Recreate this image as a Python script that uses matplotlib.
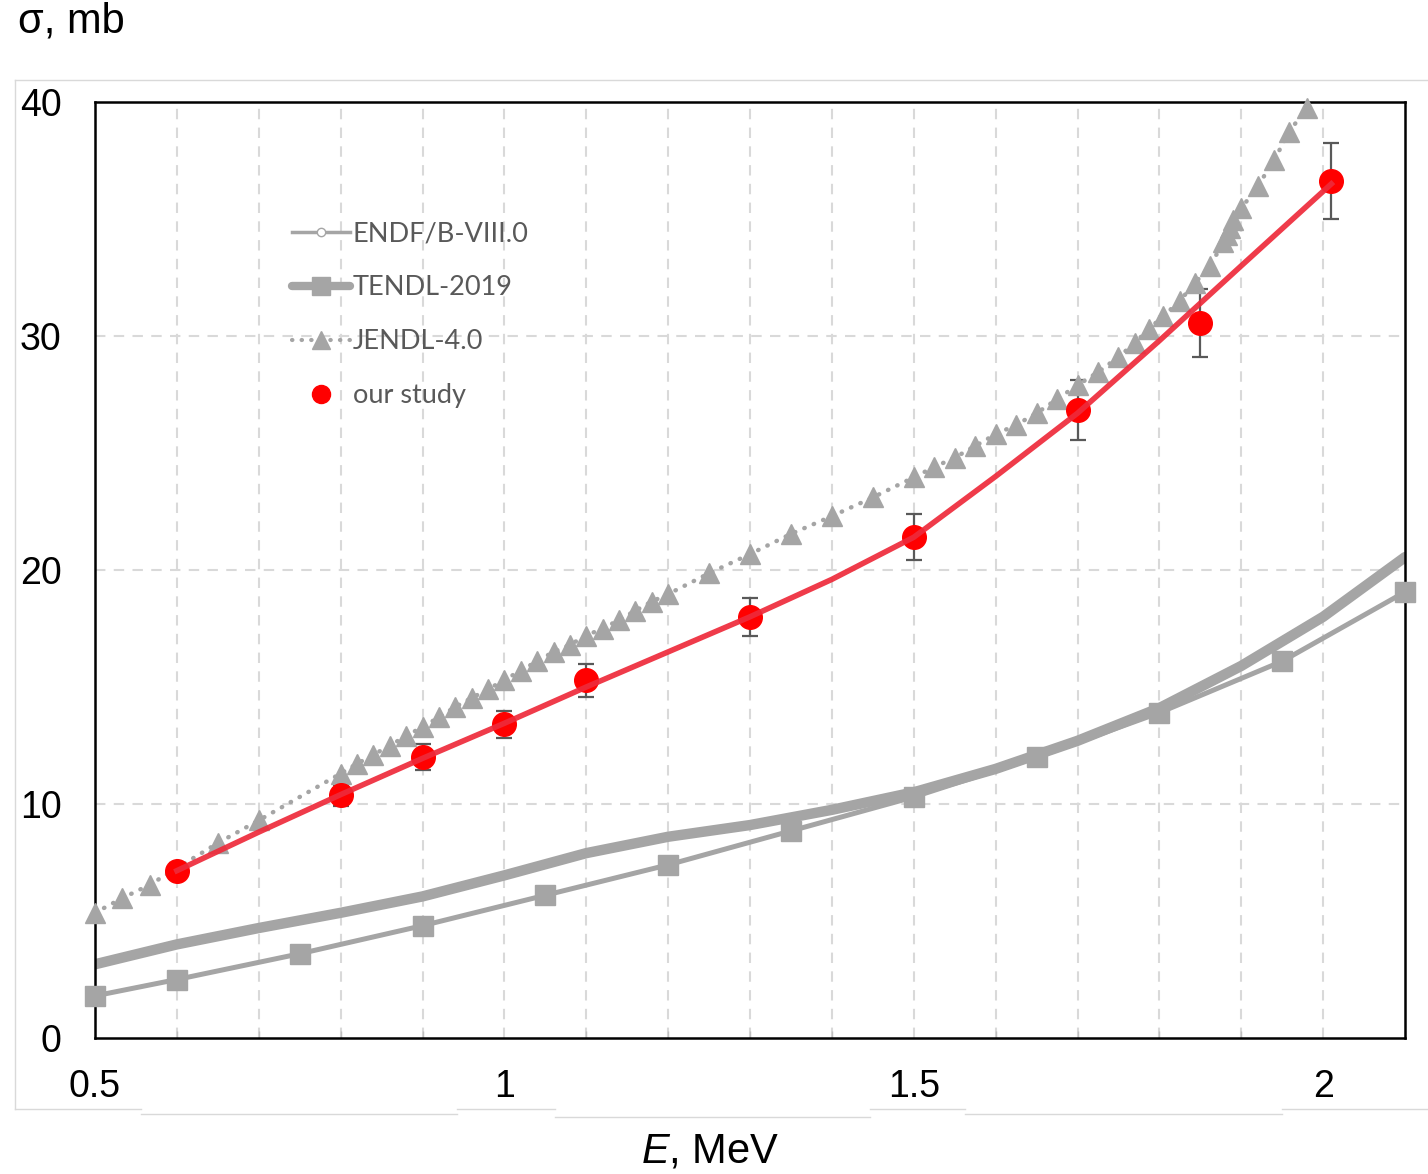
import matplotlib.pyplot as plt
from matplotlib.lines import Line2D

# our study (points with errors) and the fitted curve through them
e_exp = [0.6, 0.8, 0.9, 1.0, 1.1, 1.3, 1.5, 1.7, 1.85, 2.01]
s_exp = [7.15, 10.38, 12.0, 13.4, 15.28, 17.98, 21.4, 26.84, 30.57, 36.62]
err_exp = [0.35, 0.45, 0.55, 0.59, 0.69, 0.81, 0.98, 1.27, 1.45, 1.63]

e_fit = [0.6, 0.7, 0.8, 0.9, 1.0, 1.1, 1.2, 1.3, 1.4, 1.5, 1.6, 1.7, 1.8, 1.9, 2.01]
s_fit = [7.15, 8.8, 10.4, 11.95, 13.45, 15.0, 16.5, 18.0, 19.6, 21.4, 24.0, 26.7, 29.8, 33.0, 36.5]

# thick smooth curve
e_endf = [0.5, 0.6, 0.7, 0.8, 0.9, 1.0, 1.1, 1.2, 1.3, 1.4, 1.5, 1.6, 1.7, 1.8, 1.9, 2.0, 2.1]
s_endf = [3.15, 4.0, 4.7, 5.35, 6.05, 6.95, 7.9, 8.6, 9.1, 9.75, 10.5, 11.5, 12.7, 14.1, 15.9, 18.0, 20.55]

# thin curve with squares
e_tendl = [0.5, 0.6, 0.75, 0.9, 1.05, 1.2, 1.35, 1.5, 1.65, 1.8, 1.95, 2.1]
s_tendl = [1.8, 2.5, 3.6, 4.8, 6.1, 7.4, 8.85, 10.3, 12.0, 13.9, 16.1, 19.06]

# dotted curve with triangles
e_jendl = [0.5, 0.533, 0.567, 0.65, 0.7, 0.8, 0.82, 0.84, 0.86, 0.88, 0.9, 0.92, 0.94,
           0.96, 0.98, 1.0, 1.02, 1.04, 1.06, 1.08, 1.1, 1.12, 1.14, 1.16, 1.18, 1.2,
           1.25, 1.3, 1.35, 1.4, 1.45, 1.5, 1.525, 1.55, 1.575, 1.6, 1.625, 1.65, 1.675,
           1.7, 1.725, 1.75, 1.77, 1.787, 1.805, 1.825, 1.843, 1.862, 1.878, 1.882,
           1.886, 1.89, 1.9, 1.92, 1.94, 1.958, 1.98]
s_jendl = [5.35, 5.97, 6.55, 8.33, 9.3, 11.3, 11.72, 12.1, 12.5, 12.9, 13.3, 13.7, 14.15,
           14.53, 14.9, 15.3, 15.7, 16.1, 16.5, 16.8, 17.2, 17.5, 17.86, 18.26, 18.65, 18.97,
           19.86, 20.68, 21.54, 22.3, 23.1, 23.96, 24.4, 24.8, 25.3, 25.8, 26.2, 26.7, 27.3,
           27.9, 28.45, 29.1, 29.7, 30.3, 30.85, 31.5, 32.25, 33.0, 34.0, 34.3,
           34.6, 34.95, 35.45, 36.4, 37.5, 38.7, 39.75]

labels = ['ENDF/B-VIII.0', 'TENDL-2019', 'JENDL-4.0', 'our study']

plt.rcParams['mathtext.fontset'] = 'custom'
plt.rcParams['mathtext.it'] = 'Liberation Sans:italic'
plt.rcParams['mathtext.rm'] = 'Liberation Sans'

W, H = 1428, 1174
gray = '#A5A5A5'
fig = plt.figure(figsize=(W / 100, H / 100), dpi=100)
ax = fig.add_axes([95 / W, 1 - 1038 / H, 1310 / W, 936 / H])

ax.plot(e_endf, s_endf, color=gray, lw=7.5, solid_capstyle='round', zorder=2)
ax.plot(e_tendl, s_tendl, color=gray, lw=3.6, marker='s', ms=14, zorder=3, clip_on=False)
ax.plot(e_jendl, s_jendl, color=gray, lw=3.2, ls=(0, (0.1, 2.2)), dash_capstyle='round',
        marker='^', ms=14, zorder=4, clip_on=False)
ax.errorbar(e_exp, s_exp, yerr=err_exp, fmt='none', ecolor='#595959', elinewidth=1.6,
            capsize=6, capthick=1.6, zorder=3.5)
ax.plot(e_exp, s_exp, 'o', color='#FF0000', ms=17, zorder=5, clip_on=False)
ax.plot(e_fit, s_fit, color='#EE2A3A', lw=4, alpha=0.92, zorder=6)

ax.set_xlim(0.5, 2.1)
ax.set_ylim(0, 40)
ax.set_xticks([0.5, 1, 1.5, 2])
ax.set_xticklabels(['0.5', '1', '1.5', '2'])
ax.set_xticks([0.5 + 0.1 * i for i in range(17)], minor=True)
ax.set_yticks([0, 10, 20, 30, 40])

for v in [0.6 + 0.1 * i for i in range(15)]:
    ax.axvline(v, color='#D9D9D9', lw=1.5, ls=(0, (5, 4)), zorder=1)
for v in [10, 20, 30]:
    ax.axhline(v, color='#D9D9D9', lw=1.5, ls=(0, (5, 4)), zorder=1)

for sp in ax.spines.values():
    sp.set_linewidth(1.8)
    sp.set_color('black')
ax.tick_params(axis='x', which='major', length=0, pad=22, labelsize=27)
ax.tick_params(axis='x', which='minor', direction='in', length=5, color='#BFBFBF', width=1)
ax.tick_params(axis='y', length=0, pad=24, labelsize=27)
for t in ax.get_xticklabels() + ax.get_yticklabels():
    t.set_family('Liberation Sans')

handles = [
    Line2D([], [], color=gray, lw=2.5, marker='o', ms=6, mfc='white', mec=gray),
    Line2D([], [], color=gray, lw=6, marker='s', ms=13, solid_capstyle='round'),
    Line2D([], [], color=gray, lw=3, ls=(0, (0.1, 2.2)), dash_capstyle='round', marker='^', ms=13),
    Line2D([], [], color='#FF0000', lw=0, marker='o', ms=13),
]
leg = ax.legend(handles, labels, loc='upper left', bbox_to_anchor=(0.14, 0.887), frameon=False,
                prop={'family': 'Lato', 'size': 19.5}, handlelength=2.15, handletextpad=0.1,
                labelspacing=1.07, borderpad=0)
for t in leg.get_texts():
    t.set_color('#595959')

fig.text(18 / W, 1 - 22 / H, 'σ, mb', family='Liberation Sans', fontsize=30, va='center', ha='left')
fig.text(710 / W, 1 - 1152 / H, '$E$, MeV', family='Liberation Sans', fontsize=30,
         va='center', ha='center')

# light chart-area border
def fline(x0, y0, x1, y1):
    fig.add_artist(Line2D([x0 / W, x1 / W], [1 - y0 / H, 1 - y1 / H], color='#D9D9D9', lw=1))

fline(15, 80, 1428, 80)
fline(15, 80, 15, 1109)
fline(15, 1109, 141, 1109)
fline(141, 1114, 457, 1114)
fline(457, 1109, 555, 1109)
fline(555, 1117, 870, 1117)
fline(870, 1109, 965, 1109)
fline(965, 1114, 1282, 1114)
fline(1282, 1109, 1428, 1109)

fig.savefig('out.png', dpi=100)
